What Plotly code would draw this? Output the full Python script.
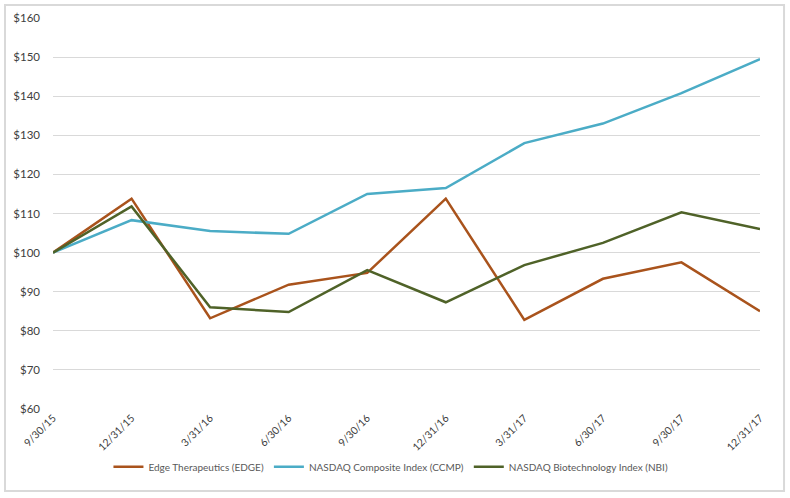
import plotly.graph_objects as go

dates = ["9/30/15", "12/31/15", "3/31/16", "6/30/16", "9/30/16",
         "12/31/16", "3/31/17", "6/30/17", "9/30/17", "12/31/17"]
edge = [100, 113.8, 83.2, 91.8, 94.8, 113.8, 82.8, 93.3, 97.5, 85.0]
ccmp = [100, 108.3, 105.5, 104.8, 115.0, 116.5, 128.0, 133.0, 140.8, 149.5]
nbi = [100, 111.8, 86.0, 84.8, 95.5, 87.3, 96.8, 102.5, 110.3, 106.0]

names = ["Edge Therapeutics (EDGE)", "NASDAQ Composite Index (CCMP)",
         "NASDAQ Biotechnology Index (NBI)"]
colors = ["#A9531C", "#4BACC6", "#4F6228"]

fig = go.Figure()
for name, vals, col in zip(names, [edge, ccmp, nbi], colors):
    fig.add_trace(go.Scatter(x=dates, y=vals, mode="lines", name=name,
                             line=dict(color=col, width=2.5)))

fig.update_layout(
    width=790, height=498,
    margin=dict(l=53, r=30, t=18, b=89),
    paper_bgcolor="white", plot_bgcolor="white",
    font=dict(family="Lato, Open Sans, sans-serif", color="#404040", size=11),
    showlegend=True,
    legend=dict(orientation="h", x=0.478, xanchor="center", y=-0.148,
                yanchor="middle", font=dict(size=10, color="#595959"),
                itemwidth=30, tracegroupgap=0),
    shapes=[dict(type="rect", xref="paper", yref="paper",
                 x0=-0.0679, x1=1.034, y0=-0.2097, y1=1.033,
                 line=dict(color="#D9D9D9", width=2), layer="below")],
)
fig.update_xaxes(type="category", range=[0, 9], tickangle=-45,
                 showgrid=False, showline=False, ticks="",
                 tickfont=dict(size=10.5, color="#404040", family="Lato"))
fig.update_yaxes(range=[60, 160], dtick=10, tickprefix="$",
                 showgrid=True, gridcolor="#D9D9D9", gridwidth=1,
                 zeroline=False, showline=False, ticks="",
                 ticklabelstandoff=12,
                 tickfont=dict(size=11.5, color="#404040", family="Lato"))

fig.write_html("out.html", config={"displayModeBar": False},
               post_script="document.body.style.margin='0';")
